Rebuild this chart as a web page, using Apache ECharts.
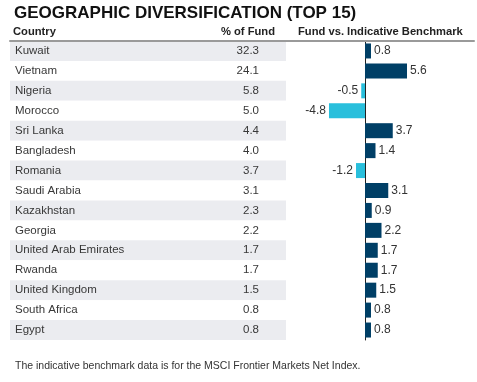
<!DOCTYPE html>
<html>
<head>
<meta charset="utf-8">
<script src="https://cdn.jsdelivr.net/npm/echarts@6/dist/echarts.min.js"></script>
<style>
html,body{margin:0;padding:0;background:#fff;}
#chart{width:477px;height:382px;}
</style>
</head>
<body>
<div id="chart"></div>
<script>
const countries = ['Kuwait','Vietnam','Nigeria','Morocco','Sri Lanka','Bangladesh','Romania','Saudi Arabia','Kazakhstan','Georgia','United Arab Emirates','Rwanda','United Kingdom','South Africa','Egypt'];
const pctOfFund = [32.3,24.1,5.8,5.0,4.4,4.0,3.7,3.1,2.3,2.2,1.7,1.7,1.5,0.8,0.8];
const vsBenchmark = [0.8,5.6,-0.5,-4.8,3.7,1.4,-1.2,3.1,0.9,2.2,1.7,1.7,1.5,0.8,0.8];

const FONT = "'Liberation Sans', Arial, Helvetica, sans-serif";
const POS = '#003f66', NEG = '#29bfdc';

const chart = echarts.init(document.getElementById('chart'), null, {renderer:'canvas'});
chart.setOption({
  animation: false,
  backgroundColor: '#fff',
  textStyle: {fontFamily: FONT},
  title: [
    {text: 'GEOGRAPHIC DIVERSIFICATION (TOP 15)', left: 14, top: 5, padding: 0,
     textStyle: {fontFamily: FONT, fontSize: 17, fontWeight: 'bold', color: '#111'}},
    {text: 'Country', left: 13, top: 26, padding: 0,
     textStyle: {fontFamily: FONT, fontSize: 11.2, fontWeight: 'bold', color: '#222'}},
    {text: '% of Fund', right: 202, top: 26, padding: 0,
     textStyle: {fontFamily: FONT, fontSize: 11.2, fontWeight: 'bold', color: '#222'}},
    {text: 'Fund vs. Indicative Benchmark', left: 298, top: 26, padding: 0,
     textStyle: {fontFamily: FONT, fontSize: 11.2, fontWeight: 'bold', color: '#222'}},
    {text: 'The indicative benchmark data is for the MSCI Frontier Markets Net Index.', left: 15, top: 361, padding: 0,
     textStyle: {fontFamily: FONT, fontSize: 10.5, fontWeight: 'normal', color: '#333'}}
  ],
  grid: [
    {left: 10, top: 41, width: 276, height: 299},
    {left: 286, top: 41, width: 188, height: 299}
  ],
  xAxis: [
    {gridIndex: 0, type: 'value', position: 'top', min: 0, max: 1,
     axisLine: {show: true, onZero: false, lineStyle: {color: '#9a9a9a', width: 2}},
     axisTick: {show: false}, axisLabel: {show: false}, splitLine: {show: false}},
    {gridIndex: 1, type: 'value', position: 'top', min: -10.53, max: 14.53,
     axisLine: {show: true, onZero: false, lineStyle: {color: '#9a9a9a', width: 2}},
     axisTick: {show: false}, axisLabel: {show: false}, splitLine: {show: false}}
  ],
  yAxis: [
    {gridIndex: 0, type: 'category', data: countries, inverse: true, position: 'left',
     axisLine: {show: false}, axisTick: {show: false},
     axisLabel: {inside: true, margin: 5, fontSize: 11.5, color: '#383838', fontFamily: FONT},
     splitLine: {show: false},
     splitArea: {show: true, areaStyle: {color: ['#ebecf0', '#ffffff']}}},
    {gridIndex: 0, type: 'category', data: pctOfFund.map(v => v.toFixed(1)), inverse: true, position: 'right',
     axisLine: {show: false}, axisTick: {show: false},
     axisLabel: {inside: true, margin: 27, fontSize: 11.5, color: '#383838', fontFamily: FONT},
     splitLine: {show: false}},
    {gridIndex: 1, type: 'category', data: countries, inverse: true,
     axisLine: {show: true, onZero: true, lineStyle: {color: '#222', width: 1}},
     axisTick: {show: false}, axisLabel: {show: false}, splitLine: {show: false}}
  ],
  series: [{
    type: 'bar', xAxisIndex: 1, yAxisIndex: 2, barWidth: 15,
    data: vsBenchmark.map(v => ({
      value: v,
      itemStyle: {color: v >= 0 ? POS : NEG},
      label: {position: v >= 0 ? 'right' : 'left'}
    })),
    label: {show: true, distance: 3, fontSize: 12, color: '#333', fontFamily: FONT,
            formatter: p => p.value.toFixed(1)}
  }]
});
</script>
</body>
</html>
